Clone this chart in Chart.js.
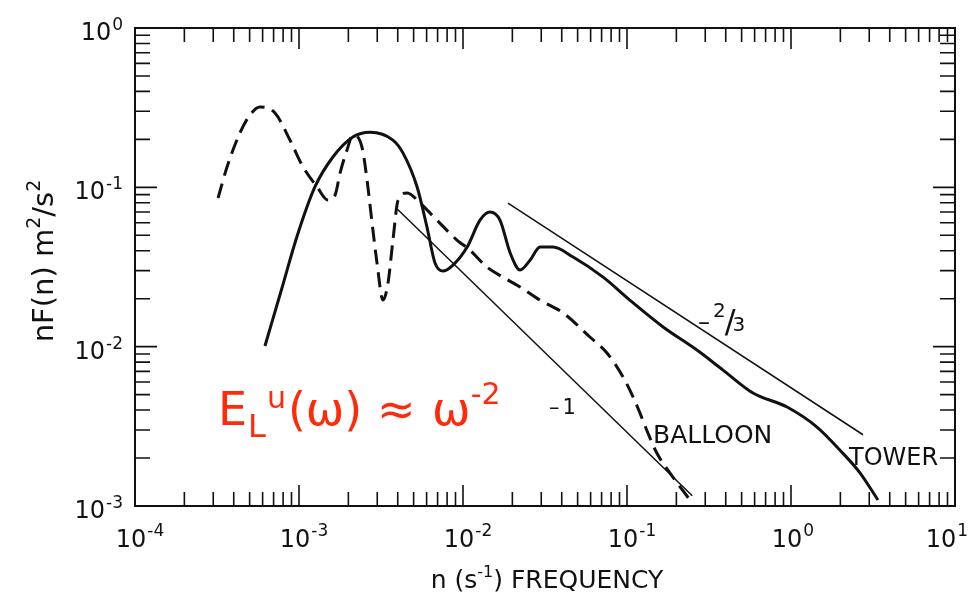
<!DOCTYPE html>
<html>
<head>
<meta charset="utf-8">
<script src="https://cdn.jsdelivr.net/npm/chart.js@4.4.1/dist/chart.umd.min.js"></script>
<style>
  html, body { margin: 0; padding: 0; background: #fff; }
  canvas { display: block; }
</style>
</head>
<body>
<canvas id="spectrum" width="970" height="593"></canvas>
<script>
// tower spectrum (solid)
const towerFreq = [6.2e-4, 7.8e-4, 9.7e-4, 1.25e-3, 1.61e-3, 2.13e-3, 2.71e-3, 3.74e-3, 4.31e-3, 5.25e-3,
  6.03e-3, 6.75e-3, 7.55e-3, 8.69e-3, 1.06e-2, 1.27e-2, 1.46e-2, 1.68e-2, 1.94e-2, 2.23e-2,
  2.57e-2, 2.95e-2, 3.54e-2, 4.69e-2, 7.15e-2, 0.104, 0.166, 0.267, 0.385, 0.586,
  0.946, 1.44, 1.99, 2.64, 3.39];
const towerValue = [1.01e-2, 2.26e-2, 4.88e-2, 0.1005, 0.155, 0.207, 0.222, 0.198, 0.164, 0.1005,
  5.63e-2, 3.35e-2, 2.98e-2, 3.25e-2, 4.22e-2, 6.23e-2, 7.0e-2, 6.23e-2, 3.87e-2, 3.03e-2,
  3.5e-2, 4.22e-2, 4.22e-2, 3.65e-2, 2.73e-2, 1.96e-2, 1.33e-2, 9.52e-3, 7.13e-3, 5.12e-3,
  4.18e-3, 3.13e-3, 2.24e-3, 1.61e-3, 1.09e-3];

// balloon spectrum (dashed)
const balloonFreq = [3.21e-4, 3.64e-4, 4.36e-4, 5.02e-4, 5.78e-4, 7.14e-4, 8.81e-4, 1.06e-3, 1.29e-3, 1.5e-3,
  1.66e-3, 1.78e-3, 1.96e-3, 2.13e-3, 2.42e-3, 2.6e-3, 2.79e-3, 2.99e-3, 3.25e-3, 3.49e-3,
  3.74e-3, 4.02e-3, 4.56e-3, 5.47e-3, 6.93e-3, 9.18e-3, 1.1e-2, 1.4e-2, 1.75e-2, 2.23e-2,
  2.95e-2, 4.07e-2, 5.94e-2, 7.55e-2, 9.46e-2, 0.109, 0.12, 0.132, 0.152, 0.183, 0.242];
const balloonValue = [8.57e-2, 0.134, 0.219, 0.284, 0.319, 0.293, 0.198, 0.134, 0.1005, 8.32e-2,
  8.95e-2, 0.123, 0.171, 0.213, 0.179, 0.111, 5.97e-2, 3.35e-2, 1.96e-2, 2.51e-2,
  4.67e-2, 8.32e-2, 9.21e-2, 7.97e-2, 6.23e-2, 4.67e-2, 4.04e-2, 3.16e-2, 2.73e-2, 2.37e-2,
  1.96e-2, 1.63e-2, 1.15e-2, 9.12e-3, 6.45e-3, 4.83e-3, 3.83e-3, 2.99e-3, 2.15e-3, 1.61e-3, 1.09e-3];

// reference slopes
const slopeOneFreq = [4.0e-3, 0.25];
const slopeOneValue = [7.25e-2, 1.16e-3];
const slopeTwoThirdsFreq = [1.88e-2, 2.75];
const slopeTwoThirdsValue = [7.97e-2, 2.8e-3];

const xTickExponents = [-4, -3, -2, -1, 0, 1];
const yTickExponents = [0, -1, -2, -3];

const ink = "#111";
const red = "#ff2a0a";
const face = '"DejaVu Sans", sans-serif';

function points(xs, ys) {
  return xs.map((x, i) => ({ x: x, y: ys[i] }));
}

// pieces: [text, size, dy, extraGap]
function piecesWidth(ctx, pieces) {
  let w = 0;
  for (const p of pieces) {
    ctx.font = p[1] + "px " + face;
    w += ctx.measureText(p[0]).width + (p[3] || 0);
  }
  return w;
}
function drawPieces(ctx, pieces, x, y) {
  ctx.textAlign = "left";
  for (const p of pieces) {
    ctx.font = p[1] + "px " + face;
    ctx.fillText(p[0], x, y + p[2]);
    x += ctx.measureText(p[0]).width + (p[3] || 0);
  }
}

const framePlugin = {
  id: "frame",
  afterDatasetsDraw(chart) {
    const { ctx, chartArea: a } = chart;
    const xs = chart.scales.x, ys = chart.scales.y;
    ctx.save();
    ctx.strokeStyle = ink;
    ctx.fillStyle = ink;
    ctx.lineWidth = 2;
    ctx.strokeRect(a.left, a.top, a.right - a.left, a.bottom - a.top);

    // inward ticks on all four sides
    ctx.lineWidth = 1.6;
    ctx.beginPath();
    const xLast = xTickExponents[xTickExponents.length - 1];
    for (let e = xTickExponents[0]; e <= xLast; e++) {
      for (let k = 1; k <= 9; k++) {
        if (e === xLast && k > 1) break;
        const px = xs.getPixelForValue(k * Math.pow(10, e));
        const len = k === 1 ? 21 : 14;
        ctx.moveTo(px, a.bottom); ctx.lineTo(px, a.bottom - len);
        ctx.moveTo(px, a.top); ctx.lineTo(px, a.top + len);
      }
    }
    const yLast = yTickExponents[0];
    for (let e = yTickExponents[yTickExponents.length - 1]; e <= yLast; e++) {
      for (let k = 1; k <= 9; k++) {
        if (e === yLast && k > 1) break;
        const py = ys.getPixelForValue(k * Math.pow(10, e));
        const len = k === 1 ? 22 : 15;
        ctx.moveTo(a.left, py); ctx.lineTo(a.left + len, py);
        ctx.moveTo(a.right, py); ctx.lineTo(a.right - len, py);
      }
    }
    ctx.stroke();

    // tick labels 10^n
    ctx.textBaseline = "alphabetic";
    for (const e of xTickExponents) {
      const px = xs.getPixelForValue(Math.pow(10, e));
      const ex = e < 0 ? "-" + (-e) : String(e);
      ctx.font = "24px " + face;
      const w10 = ctx.measureText("10").width;
      ctx.font = "17px " + face;
      const we = ctx.measureText(ex).width;
      // keep the last label inside the page
      const cx = Math.min(px - 4, 968 - we - 1 - w10 / 2);
      ctx.font = "24px " + face;
      ctx.textAlign = "center";
      ctx.fillText("10", cx, a.bottom + 41);
      ctx.font = "17px " + face;
      ctx.textAlign = "left";
      ctx.fillText(ex, cx + w10 / 2 + 1, a.bottom + 30);
    }
    for (const e of yTickExponents) {
      const py = ys.getPixelForValue(Math.pow(10, e));
      const ex = e < 0 ? "-" + (-e) : String(e);
      ctx.font = "17px " + face;
      const we = ctx.measureText(ex).width;
      ctx.textAlign = "right";
      ctx.fillText(ex, a.left - 12, py + 2);
      ctx.font = "24px " + face;
      ctx.fillText("10", a.left - 12 - we - 1, py + 12);
    }

    // axis titles
    const xTitle = [["n (s", 25, 0], ["-1", 16, -11], [") FREQUENCY", 25, 0]];
    drawPieces(ctx, xTitle, 547 - piecesWidth(ctx, xTitle) / 2, 588);

    const yTitle = [["nF(n) m", 29, 0], ["2", 19, -13], ["/s", 29, 0], ["2", 19, -13]];
    ctx.save();
    ctx.translate(53, 261);
    ctx.rotate(-Math.PI / 2);
    drawPieces(ctx, yTitle, -piecesWidth(ctx, yTitle) / 2, 0);
    ctx.restore();

    // curve labels
    drawPieces(ctx, [["BALLOON", 25, 0]], 653, 443);
    drawPieces(ctx, [["TOWER", 24, 0]], 849, 465);
    drawPieces(ctx, [["\u2013", 21, 0, 3], ["1", 21, 0]], 549, 414);
    drawPieces(ctx, [["\u2013", 24, 0, 3], ["2", 20, -13, -1], ["/", 32, 2, -3], ["3", 20, 1]], 698, 330);

    // red formula
    ctx.fillStyle = red;
    drawPieces(ctx, [["E", 46, 0, 1], ["L", 32, 12, 1], ["u", 30, -17, 2], ["(\u03c9)", 46, 0],
      [" \u2248 ", 46, 0, 2], ["\u03c9", 46, 0], ["-2", 30, -21]], 218, 425);
    ctx.restore();
  }
};

const ctx = document.getElementById("spectrum").getContext("2d");
new Chart(ctx, {
  type: "line",
  data: {
    datasets: [
      {
        label: "TOWER",
        data: points(towerFreq, towerValue),
        borderColor: ink,
        borderWidth: 3,
        cubicInterpolationMode: "monotone",
      },
      {
        label: "BALLOON",
        data: points(balloonFreq, balloonValue),
        borderColor: ink,
        borderWidth: 3,
        borderDash: [15, 8],
        cubicInterpolationMode: "monotone",
      },
      {
        label: "-1",
        data: points(slopeOneFreq, slopeOneValue),
        borderColor: ink,
        borderWidth: 1.5,
      },
      {
        label: "-2/3",
        data: points(slopeTwoThirdsFreq, slopeTwoThirdsValue),
        borderColor: ink,
        borderWidth: 1.5,
      },
    ],
  },
  options: {
    responsive: false,
    animation: false,
    devicePixelRatio: 1,
    layout: { padding: { left: 135, top: 28, right: 15, bottom: 87 } },
    elements: { point: { radius: 0 } },
    plugins: { legend: { display: false }, tooltip: { enabled: false } },
    scales: {
      x: { type: "logarithmic", min: 1e-4, max: 10, display: false },
      y: { type: "logarithmic", min: 1e-3, max: 1, display: false },
    },
  },
  plugins: [framePlugin],
});
</script>
</body>
</html>
